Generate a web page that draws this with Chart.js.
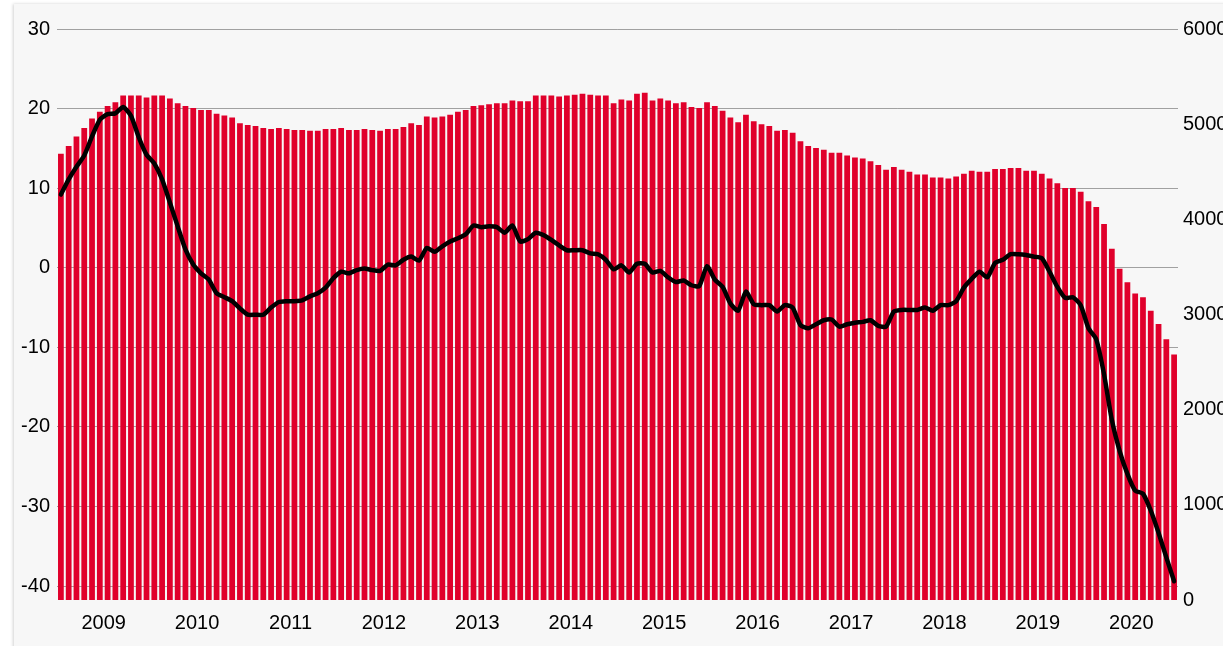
<!DOCTYPE html>
<html>
<head>
<meta charset="utf-8">
<script src="https://cdn.jsdelivr.net/npm/chart.js@4"></script>
<style>
    html, body { margin: 0; padding: 0; background: #ffffff; overflow: hidden; }
    .card {
        position: absolute;
        left: 14px;
        top: 4px;
        width: 1240px;
        height: 660px;
        background: #f7f7f7;
        box-shadow: -1px 0 3px rgba(0, 0, 0, 0.18);
    }
    #volChart { display: block; }
</style>
</head>
<body>
<div class="card">
    <canvas id="volChart" width="1224" height="642"></canvas>
</div>
<script>
const years = [2009, 2010, 2011, 2012, 2013, 2014, 2015, 2016, 2017, 2018, 2019, 2020];
const monthCodes = ['01', '02', '03', '04', '05', '06', '07', '08', '09', '10', '11', '12'];
const months = years.flatMap((y) => monthCodes.map((m) => `${y}-${m}`));

// bars, right axis
const volume = [
    4690, 4770, 4870, 4960, 5060, 5130, 5190, 5230, 5300, 5300, 5300, 5280,
    5300, 5300, 5270, 5220, 5190, 5170, 5150, 5150, 5110, 5090, 5070, 5010,
    4990, 4980, 4960, 4950, 4960, 4950, 4940, 4940, 4930, 4930, 4950, 4950,
    4960, 4940, 4940, 4950, 4940, 4930, 4950, 4950, 4970, 5010, 4990, 5080,
    5070, 5080, 5100, 5130, 5150, 5190, 5200, 5210, 5220, 5220, 5250, 5240,
    5240, 5300, 5300, 5300, 5290, 5300, 5310, 5320, 5310, 5300, 5300, 5220,
    5260, 5250, 5320, 5330, 5250, 5270, 5250, 5220, 5230, 5180, 5170, 5230,
    5190, 5140, 5070, 5020, 5100, 5030, 5000, 4980, 4930, 4940, 4910, 4820,
    4770, 4750, 4730, 4700, 4700, 4670, 4650, 4640, 4610, 4570, 4520, 4550,
    4520, 4500, 4470, 4470, 4440, 4440, 4430, 4450, 4480, 4510, 4500, 4500,
    4530, 4530, 4540, 4540, 4510, 4510, 4480, 4430, 4380, 4330, 4330, 4290,
    4190, 4130, 3950, 3690, 3480, 3340, 3220, 3180, 3040, 2900, 2740, 2580
];

// line, left axis
const growth = [
    9.2, 11.1, 12.7, 14.1, 16.5, 18.6, 19.3, 19.4, 20.2, 19.1, 16.4, 14.2,
    13.1, 11.1, 8.2, 5.2, 2.3, 0.4, -0.7, -1.5, -3.2, -3.7, -4.2, -5.1,
    -5.9, -5.9, -5.9, -5.0, -4.3, -4.2, -4.2, -4.1, -3.6, -3.2, -2.5, -1.3,
    -0.5, -0.7, -0.3, -0.1, -0.3, -0.4, 0.4, 0.3, 1.0, 1.4, 0.9, 2.5,
    2.0, 2.7, 3.3, 3.7, 4.2, 5.3, 5.1, 5.2, 5.1, 4.4, 5.3, 3.3,
    3.6, 4.4, 4.1, 3.5, 2.8, 2.2, 2.2, 2.2, 1.8, 1.7, 1.0, -0.2,
    0.3, -0.6, 0.5, 0.5, -0.6, -0.4, -1.2, -1.8, -1.6, -2.2, -2.3, 0.2,
    -1.5, -2.4, -4.5, -5.4, -3.0, -4.6, -4.7, -4.7, -5.5, -4.7, -5.0, -7.2,
    -7.6, -7.1, -6.6, -6.5, -7.4, -7.1, -6.9, -6.8, -6.6, -7.3, -7.4, -5.5,
    -5.3, -5.3, -5.3, -5.0, -5.4, -4.7, -4.7, -4.2, -2.5, -1.4, -0.5, -1.2,
    0.6, 1.0, 1.7, 1.7, 1.6, 1.4, 1.2, -0.5, -2.4, -3.8, -3.7, -4.7,
    -7.6, -9.0, -13.4, -19.1, -23.0, -25.9, -28.0, -28.4, -30.5, -33.3, -36.4, -39.4
];

const leftTicks = [30, 20, 10, 0, -10, -20, -30, -40];
const rightTicks = [0, 1000, 2000, 3000, 4000, 5000, 6000];

const tickFont = { family: "'Liberation Sans', Arial, sans-serif", size: 20 };
const tickColor = '#000000';

new Chart(document.getElementById('volChart'), {
    data: {
        labels: months,
        datasets: [
            {
                type: 'line',
                label: 'growth',
                data: growth,
                yAxisID: 'yL',
                borderColor: '#000000',
                borderWidth: 4.5,
                tension: 0.2,
                pointRadius: 0,
                borderJoinStyle: 'round',
                borderCapStyle: 'round',
                order: 0
            },
            {
                type: 'bar',
                label: 'volume',
                data: volume,
                yAxisID: 'yR',
                backgroundColor: '#e0002b',
                barPercentage: 0.74,
                categoryPercentage: 1,
                order: 1
            }
        ]
    },
    options: {
        responsive: false,
        animation: false,
        devicePixelRatio: 1,
        layout: { padding: { top: 25, left: 0, right: 0, bottom: 6 } },
        plugins: { legend: { display: false }, tooltip: { enabled: false } },
        scales: {
            x: {
                type: 'category',
                grid: { display: false },
                border: { display: false },
                afterFit: (scale) => { scale.height = 40; },
                ticks: {
                    autoSkip: false,
                    maxRotation: 0,
                    minRotation: 0,
                    padding: 3,
                    labelOffset: -3.9,
                    font: tickFont,
                    color: tickColor,
                    callback: (value, index) => (index % 12 === 6 ? String(years[Math.floor(index / 12)]) : '')
                }
            },
            yL: {
                type: 'linear',
                position: 'left',
                min: -41.75,
                max: 30,
                z: 1,
                afterFit: (scale) => { scale.width = 43; },
                afterBuildTicks: (scale) => { scale.ticks = leftTicks.map((v) => ({ value: v })); },
                grid: { color: 'rgba(0, 0, 0, 0.35)', lineWidth: 1, drawTicks: false },
                border: { display: false },
                ticks: { padding: 7, font: tickFont, color: tickColor }
            },
            yR: {
                type: 'linear',
                position: 'right',
                min: 0,
                max: 6000,
                afterFit: (scale) => { scale.width = 60; },
                afterBuildTicks: (scale) => { scale.ticks = rightTicks.map((v) => ({ value: v })); },
                grid: { display: false, drawTicks: false },
                border: { display: false },
                ticks: {
                    padding: 5,
                    font: tickFont,
                    color: tickColor,
                    callback: (value) => String(value)
                }
            }
        }
    }
});
</script>
</body>
</html>
